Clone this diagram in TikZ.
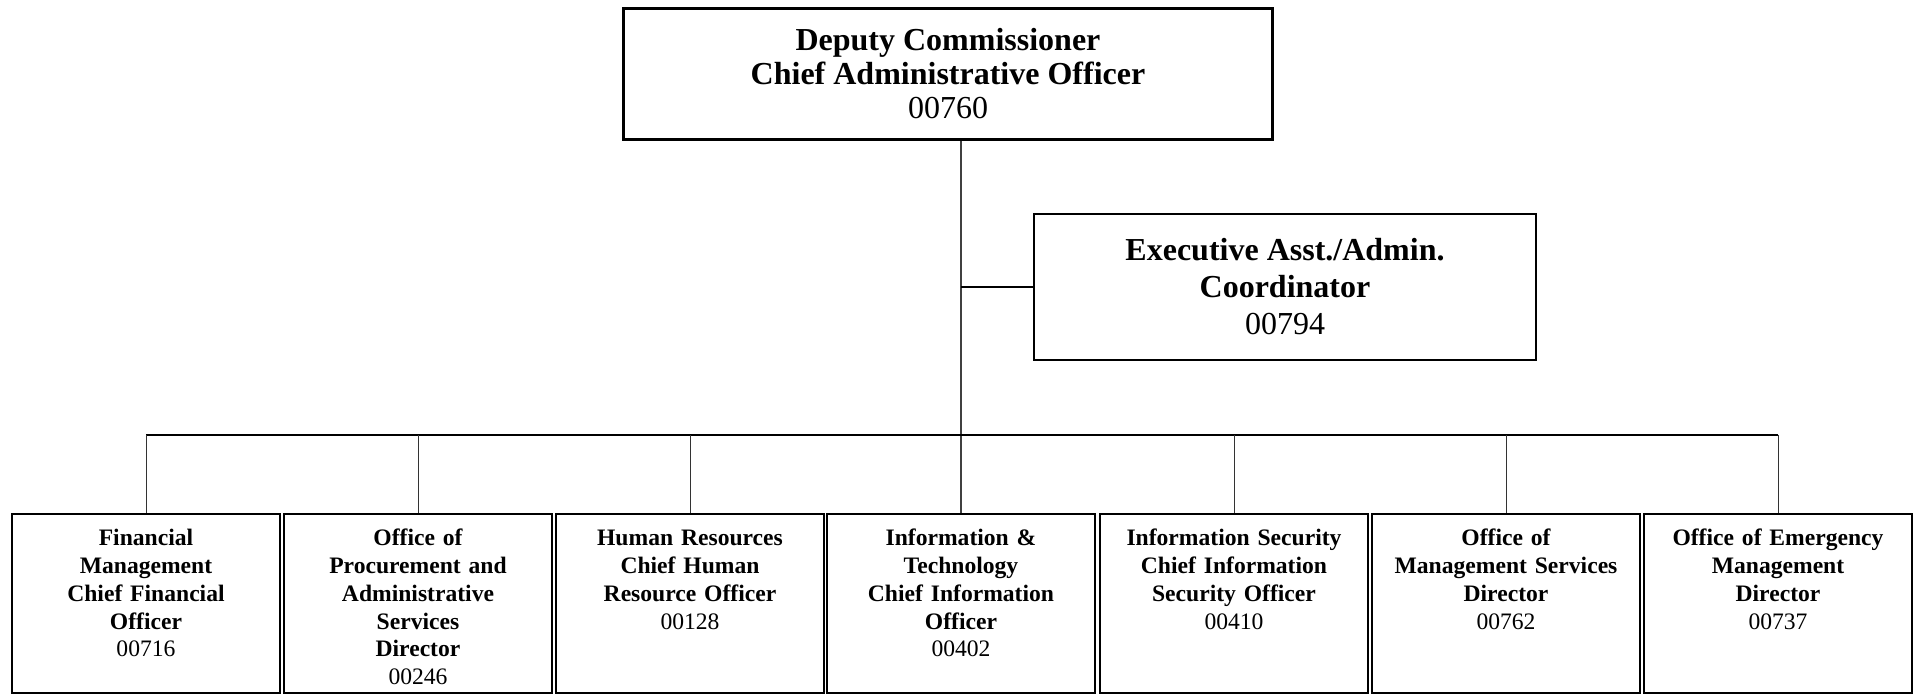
\documentclass[tikz,border=0pt]{standalone}
\usepackage{fontspec}
\setmainfont{Liberation Serif}
\usetikzlibrary{positioning}

\begin{document}
\begin{tikzpicture}[
  x=0.5pt, y=-0.5pt,
  head/.style  = {draw, line width=1.5pt, inner sep=0pt, align=center,
                  minimum width=324.5pt, minimum height=65.5pt,
                  font=\fontsize{16}{17}\selectfont},
  aide/.style  = {draw, line width=1pt, inner sep=0pt, align=center,
                  minimum width=251pt, minimum height=73pt,
                  font=\fontsize{16}{18.5}\selectfont},
  unit/.style  = {draw, line width=1pt, anchor=north, align=center,
                  text width=124pt, inner xsep=5pt, inner ysep=7pt,
                  text height=9pt, text depth=66.5pt,   % fixed box, text hangs from the top
                  font=\fontsize{11.8}{13.85}\selectfont},
  trunk/.style = {line width=0.6pt, black!75},
  stub/.style  = {line width=1pt},
  bus/.style   = {line width=1pt},
  drop/.style  = {line width=0.5pt, black!80},
]
  \useasboundingbox (0,0) rectangle (1919,694);

  \node[head] (dc) at (948,74)
    {\textbf{Deputy Commissioner}\\ \textbf{Chief Administrative Officer}\\ 00760};
  \node[aide] (ea) at (1285,287)
    {\textbf{Executive Asst./Admin.}\\ \textbf{Coordinator}\\ 00794};

  % the seven offices reporting to the deputy commissioner
  \node[unit] (fm)  at (146,513)  {\textbf{Financial\\ Management\\ Chief Financial\\ Officer}\\ 00716};
  \node[unit] (opa) at (418,513)  {\textbf{Office of\\ Procurement and\\ Administrative\\ Services\\ Director}\\ 00246};
  \node[unit] (hr)  at (690,513)  {\textbf{Human Resources\\ Chief Human\\ Resource Officer}\\ 00128};
  \node[unit] (it)  at (961,513)  {\textbf{Information \&\\ Technology\\ Chief Information\\ Officer}\\ 00402};
  \node[unit] (is)  at (1234,513) {\textbf{Information Security\\ Chief Information\\ Security Officer}\\ 00410};
  \node[unit] (oms) at (1506,513) {\textbf{Office of\\ Management Services\\ Director}\\ 00762};
  \node[unit] (oem) at (1778,513) {\textbf{Office of Emergency\\ Management\\ Director}\\ 00737};

  \coordinate (bus) at (0,435);

  \draw[trunk] (dc.south -| it.north) -- (it.north);
  \draw[stub] (ea.west -| it.north) -- (ea.west);
  \draw[bus] (fm.north |- bus) -- (oem.north |- bus);
  \foreach \u in {fm,opa,hr,is,oms,oem}
    \draw[drop] (\u.north |- bus) -- (\u.north);
\end{tikzpicture}
\end{document}
